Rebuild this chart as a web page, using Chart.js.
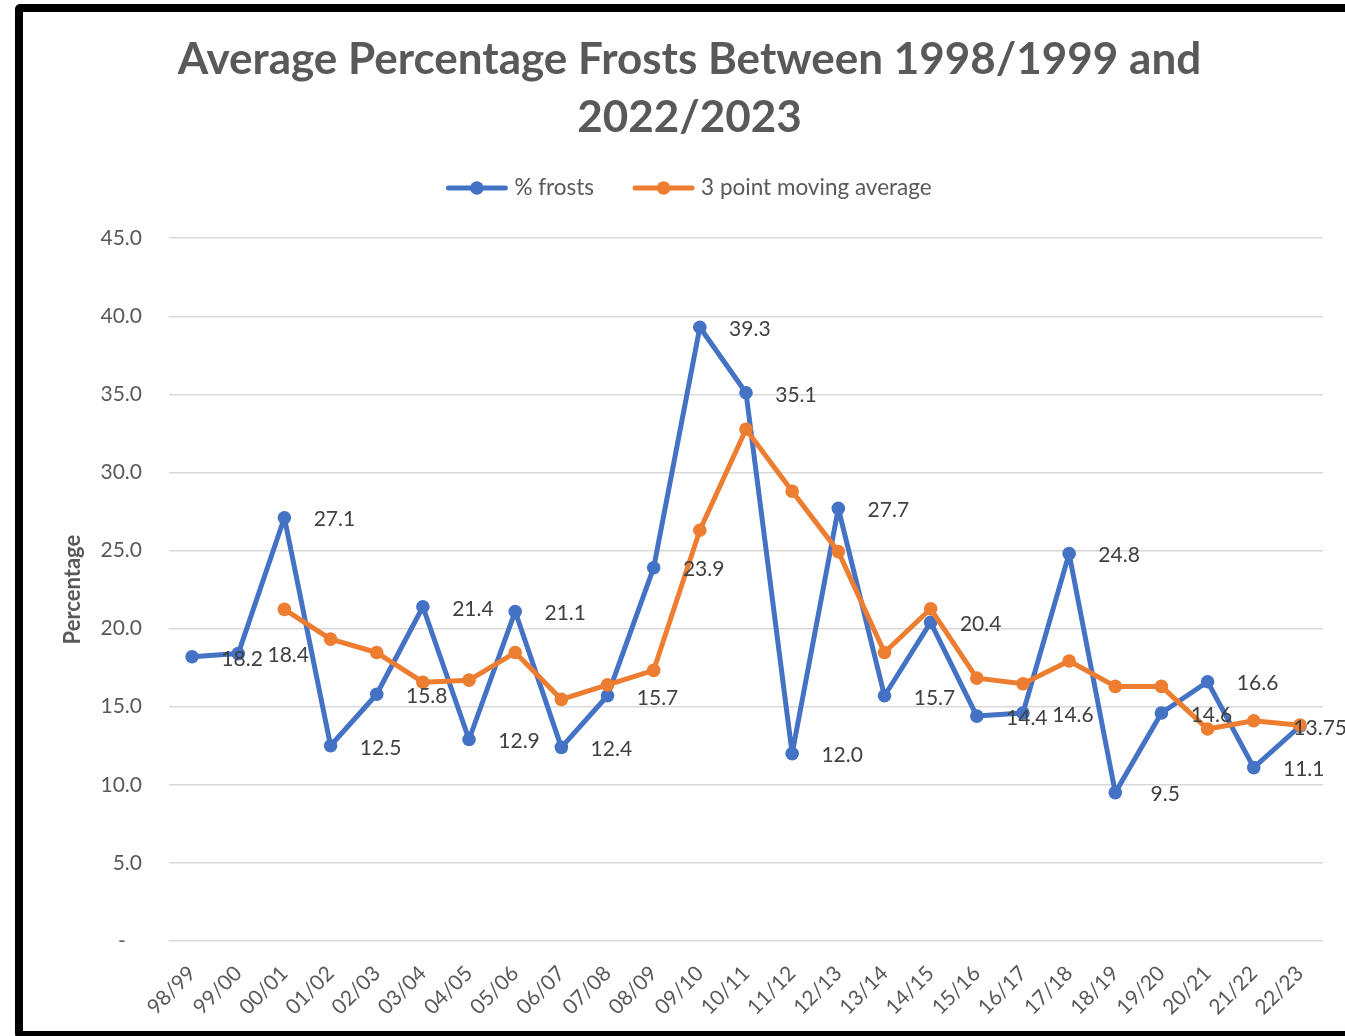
<!DOCTYPE html>
<html>
<head>
<meta charset="utf-8">
<title>Average Percentage Frosts</title>
<script src="https://cdn.jsdelivr.net/npm/chart.js@4.4.1/dist/chart.umd.min.js"></script>
<style>
  html, body { margin: 0; padding: 0; background: #fff; overflow: hidden; }
  #wrap { position: relative; width: 1345px; height: 1036px; overflow: hidden; }
  #frostChart { position: absolute; left: 0; top: 0; }
  /* black frame round the chart, right side runs off the picture */
  #frame { position: absolute; left: 15px; top: 4px; width: 1400px; height: 1035px;
           box-sizing: border-box; border: 8px solid #000; border-radius: 5px; pointer-events: none; }
</style>
</head>
<body>
<div id="wrap">
  <canvas id="frostChart" width="1345" height="1036"></canvas>
  <div id="frame"></div>
</div>
<script>
// Seasons on the x axis
const seasons = ['98/99', '99/00', '00/01', '01/02', '02/03', '03/04', '04/05', '05/06', '06/07', '07/08',
                 '08/09', '09/10', '10/11', '11/12', '12/13', '13/14', '14/15', '15/16', '16/17', '17/18',
                 '18/19', '19/20', '20/21', '21/22', '22/23'];

// % frosts (blue, labelled)
const frostPct = [18.2, 18.4, 27.1, 12.5, 15.8, 21.4, 12.9, 21.1, 12.4, 15.7,
                  23.9, 39.3, 35.1, 12.0, 27.7, 15.7, 20.4, 14.4, 14.6, 24.8,
                  9.5, 14.6, 16.6, 11.1, 13.75];

// 3 point moving average (orange), starts at the third season
const movingAvg = [null, null, 21.23, 19.33, 18.47, 16.57, 16.70, 18.47, 15.47, 16.40,
                   17.33, 26.30, 32.77, 28.80, 24.93, 18.47, 21.27, 16.83, 16.47, 17.93,
                   16.30, 16.30, 13.57, 14.10, 13.82];

const titleLines = ['Average Percentage Frosts Between 1998/1999 and', '2022/2023'];
const yTicksMax = 45;
const yTicksStep = 5;

const BLUE = '#4472C4';
const ORANGE = '#ED7D31';
const GREY = '#595959';

const fmtValue = v => (Math.round(v * 10) === v * 10 ? v.toFixed(1) : String(v));

// Value labels for the blue series, drawn to the right of each point
const valueLabels = {
    id: 'valueLabels',
    afterDatasetsDraw(chart) {
        const ctx = chart.ctx;
        const meta = chart.getDatasetMeta(0);
        ctx.save();
        ctx.font = '21px Lato';
        ctx.fillStyle = '#404040';
        ctx.textAlign = 'left';
        ctx.textBaseline = 'middle';
        meta.data.forEach((pt, i) => {
            const txt = fmtValue(frostPct[i]);
            const w = ctx.measureText(txt).width;
            const left = Math.min(pt.x + 50 - w / 2, chart.width - w + 2);
            ctx.fillText(txt, left, pt.y + 2);
        });
        ctx.restore();
    }
};

// Legend with a line and a marker per series
const lineLegend = {
    id: 'lineLegend',
    afterDraw(chart) {
        const ctx = chart.ctx;
        const items = chart.data.datasets.map(ds => ({ text: ds.label, color: ds.borderColor }));
        const lineLen = 57, gapText = 9, gapItem = 41, y = 188;
        ctx.save();
        ctx.font = '22.5px Lato';
        const widths = items.map(it => lineLen + gapText + ctx.measureText(it.text).width);
        const total = widths.reduce((a, b) => a + b, 0) + gapItem * (items.length - 1);
        let x = 690 - total / 2;
        items.forEach((it, i) => {
            ctx.strokeStyle = it.color;
            ctx.lineWidth = 5;
            ctx.lineCap = 'round';
            ctx.beginPath();
            ctx.moveTo(x, y);
            ctx.lineTo(x + lineLen, y);
            ctx.stroke();
            ctx.fillStyle = it.color;
            ctx.beginPath();
            ctx.arc(x + lineLen / 2, y, 6.8, 0, Math.PI * 2);
            ctx.fill();
            ctx.fillStyle = GREY;
            ctx.textAlign = 'left';
            ctx.textBaseline = 'middle';
            ctx.fillText(it.text, x + lineLen + gapText, y);
            x += widths[i] + gapItem;
        });
        ctx.restore();
    }
};

function drawChart() {
    Chart.defaults.font.family = 'Lato';
    const ctx = document.getElementById('frostChart');

    const seriesStyle = {
        borderWidth: 5,
        borderJoinStyle: 'round',
        borderCapStyle: 'round',
        pointRadius: 6.8,
        pointHoverRadius: 6.8,
        pointBorderWidth: 0,
        tension: 0
    };

    new Chart(ctx, {
        type: 'line',
        data: {
            labels: seasons,
            datasets: [{
                ...seriesStyle,
                label: '% frosts',
                data: frostPct,
                borderColor: BLUE,
                backgroundColor: BLUE,
                order: 2
            }, {
                ...seriesStyle,
                label: '3 point moving average',
                data: movingAvg,
                borderColor: ORANGE,
                backgroundColor: ORANGE,
                order: 1
            }]
        },
        options: {
            responsive: false,
            animation: false,
            layout: { padding: { left: 56, right: 22, top: 0, bottom: 0 } },
            plugins: {
                legend: { display: false },
                tooltip: { enabled: false },
                title: {
                    display: true,
                    text: titleLines,
                    color: GREY,
                    font: { size: 44, weight: 'bold', lineHeight: 1.32 },
                    padding: { top: 31, bottom: 91 }
                }
            },
            scales: {
                x: {
                    offset: true,
                    grid: { display: false },
                    border: { display: false },
                    ticks: {
                        color: GREY,
                        font: { size: 21 },
                        minRotation: 45,
                        maxRotation: 45,
                        autoSkip: false,
                        padding: 12
                    },
                    afterFit(scale) { scale.height = 95; }
                },
                y: {
                    min: 0,
                    max: yTicksMax,
                    ticks: {
                        stepSize: yTicksStep,
                        color: GREY,
                        font: { size: 21 },
                        padding: 27,
                        callback: v => (v === 0 ? '-   ' : v.toFixed(1))
                    },
                    grid: { color: '#D9D9D9', lineWidth: 1.5, drawTicks: false },
                    border: { display: false },
                    title: {
                        display: true,
                        text: 'Percentage',
                        color: GREY,
                        font: { size: 22, weight: 'bold' }
                    },
                    afterFit(scale) { scale.width = 113; }
                }
            }
        },
        plugins: [valueLabels, lineLegend]
    });
}

Promise.all([
    document.fonts.load('21px Lato'),
    document.fonts.load('bold 44px Lato')
]).then(drawChart, drawChart);
</script>
</body>
</html>
